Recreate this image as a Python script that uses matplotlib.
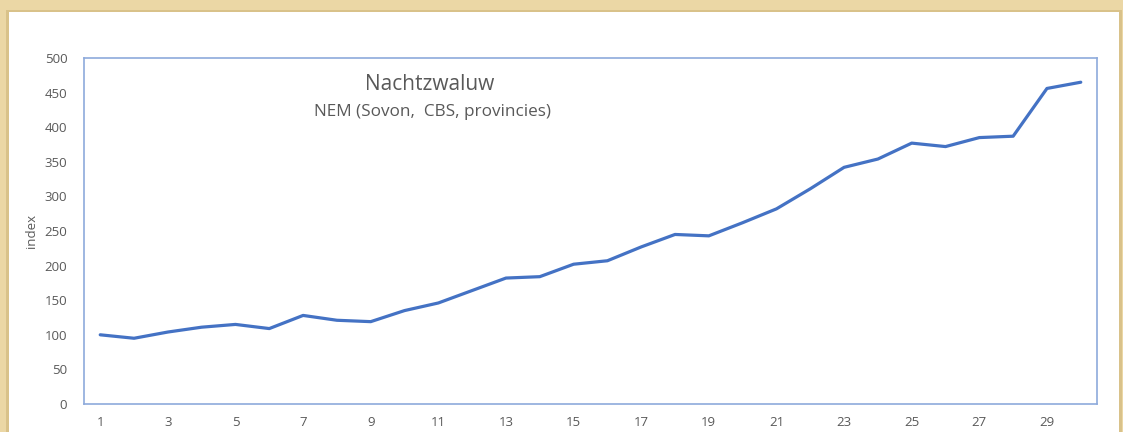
import numpy as np
import matplotlib.pyplot as plt
from matplotlib.patches import Rectangle

# index values
years = list(range(1, 31))
index_values = [100, 95, 104, 111, 115, 109, 128, 121, 119, 135,
                146, 164, 182, 184, 202, 207, 227, 245, 243, 262,
                282, 311, 342, 354, 377, 372, 385, 387, 456, 465]
xtick_values = list(range(1, 30, 2))
ytick_values = list(range(0, 501, 50))

title_text = 'Nachtzwaluw'
subtitle_text = 'NEM (Sovon,  CBS, provincies)'

W, H = 1123, 432
fig = plt.figure(figsize=(W / 100, H / 100), dpi=100)
fig.patch.set_facecolor('#ebd7a5')

# white sheet with a little shadow on the sides (behind the axes)
fig.patches.append(Rectangle((6 / W, 0), 1116 / W, (H - 10) / H, transform=fig.transFigure,
                             facecolor='#d9c28a', edgecolor='none', zorder=-2))
fig.patches.append(Rectangle((9 / W, 0), 1110 / W, (H - 12) / H, transform=fig.transFigure,
                             facecolor='white', edgecolor='none', zorder=-1))

ax = fig.add_axes([84 / W, 28 / H, (1097 - 84) / W, (404 - 58) / H])
ax.set_facecolor('white')
ax.plot(years, index_values, color='#4472c4', linewidth=2.3, solid_capstyle='round', zorder=3)

ax.set_xlim(0.52, 30.48)
ax.set_ylim(0, 500)
ax.set_xticks(xtick_values)
ax.set_yticks(ytick_values)
ax.tick_params(length=0, labelsize=9.5, labelcolor='#595959')
ax.tick_params(axis='x', pad=9)
ax.tick_params(axis='y', pad=12)
for lab in ax.get_xticklabels() + ax.get_yticklabels():
    lab.set_fontfamily('Open Sans')
for s in ax.spines.values():
    s.set_color('#8eaadb')
    s.set_linewidth(1.2)

ax.set_ylabel('index', fontsize=9.5, color='#595959', fontfamily='Open Sans')
ax.yaxis.set_label_coords(-0.0454, 0.5)

fig.text(430 / W, 1 - 85 / H, title_text, ha='center', va='center',
         fontsize=15, color='#595959', fontfamily='Open Sans')
fig.text(432 / W, 1 - 112 / H, subtitle_text, ha='center', va='center',
         fontsize=12.3, color='#595959', fontfamily='Open Sans')

fig.savefig('out.png', dpi=100, facecolor=fig.get_facecolor())
